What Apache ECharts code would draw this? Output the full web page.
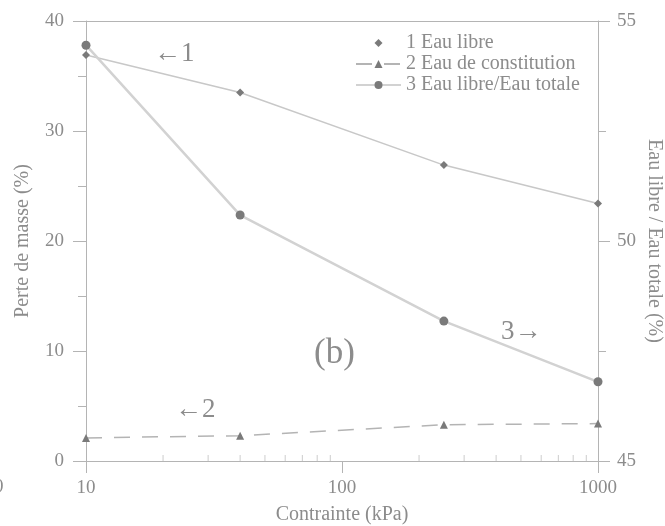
<!DOCTYPE html>
<html><head><meta charset="utf-8">
<script src="https://cdn.jsdelivr.net/npm/echarts@6/dist/echarts.min.js"></script>
<style>html,body{margin:0;padding:0;background:#fff}#c{width:665px;height:526px}</style>
</head><body><div id="c"></div>
<script>
const contrainte = [10, 40, 250, 1000];
const eauLibre = [36.9, 33.5, 26.9, 23.4];
const eauConstitution = [2.1, 2.3, 3.3, 3.4];
const eauLibreTotale = [54.45, 50.59, 48.18, 46.8];
const xMinorTicks = [20, 30, 40, 50, 60, 70, 80, 90, 200, 300, 400, 500, 600, 700, 800, 900];
const names = ['1 Eau libre', '2 Eau de constitution', '3 Eau libre/Eau totale'];

const F = 'Liberation Serif';
const TXT = '#8c8c8c';
const AX = '#b4b4b4';
const pairs = (ys) => contrainte.map((x, i) => [x, ys[i]]);

const chart = echarts.init(document.getElementById('c'), null, {renderer: 'canvas'});
chart.setOption({
  animation: false,
  backgroundColor: '#fff',
  textStyle: {fontFamily: F},
  grid: {left: 86, right: 67, top: 21, bottom: 65, containLabel: false, outerBoundsMode: 'none'},
  legend: {
    orient: 'vertical', left: 350, top: 28, itemGap: 1, itemWidth: 45, itemHeight: 10,
    textStyle: {fontFamily: F, fontSize: 20, color: TXT},
    data: [{name: names[0], lineStyle: {opacity: 0}}, names[1], names[2]]
  },
  xAxis: [{
    type: 'log', logBase: 10, min: 10, max: 1000,
    name: 'Contrainte (kPa)', nameLocation: 'middle', nameGap: 44,
    nameTextStyle: {fontFamily: F, fontSize: 20, color: TXT},
    axisLine: {lineStyle: {color: AX, width: 1}},
    axisTick: {show: true, inside: false, length: 12, lineStyle: {color: AX}},
    axisLabel: {margin: 18, fontFamily: F, fontSize: 19, color: TXT, formatter: (v) => String(Math.round(v))},
    splitLine: {show: false}
  }, {
    type: 'value', position: 'top', min: 0, max: 1,
    axisLine: {show: true, lineStyle: {color: AX}},
    axisTick: {show: false}, axisLabel: {show: false}, splitLine: {show: false}
  }],
  yAxis: [{
    type: 'value', min: 0, max: 40, interval: 10, position: 'left',
    name: 'Perte de masse (%)', nameLocation: 'middle', nameGap: 53, nameRotate: 90,
    nameTextStyle: {fontFamily: F, fontSize: 20, color: TXT},
    axisLine: {show: true, lineStyle: {color: AX}},
    axisTick: {show: true, inside: false, length: 13, lineStyle: {color: AX}},
    minorTick: {show: true, splitNumber: 2, length: 8, lineStyle: {color: AX}},
    axisLabel: {margin: 22, fontFamily: F, fontSize: 19, color: TXT},
    splitLine: {show: false}
  }, {
    type: 'value', min: 45, max: 55, interval: 5, position: 'right',
    name: 'Eau libre / Eau totale (%)', nameLocation: 'middle', nameGap: 46, nameRotate: -90,
    nameMoveOverlap: false,
    nameTextStyle: {fontFamily: F, fontSize: 20, color: TXT},
    axisLine: {show: true, lineStyle: {color: AX}},
    axisTick: {show: true, inside: false, length: 12, lineStyle: {color: AX}},
    minorTick: {show: true, splitNumber: 2, length: 8, lineStyle: {color: AX}},
    axisLabel: {margin: 19, fontFamily: F, fontSize: 19, color: TXT},
    splitLine: {show: false}
  }],
  series: [{
    name: names[0], type: 'line', xAxisIndex: 0, yAxisIndex: 0,
    data: pairs(eauLibre), symbol: 'diamond', symbolSize: 8,
    lineStyle: {color: '#c8c8c8', width: 1.5},
    itemStyle: {color: '#7a7a7a'}
  }, {
    name: names[1], type: 'line', xAxisIndex: 0, yAxisIndex: 0,
    data: pairs(eauConstitution), symbol: 'triangle', symbolSize: 8,
    lineStyle: {color: '#b4b4b4', width: 1.5, type: [16, 12]},
    itemStyle: {color: '#7a7a7a'}
  }, {
    name: names[2], type: 'line', xAxisIndex: 0, yAxisIndex: 1,
    data: pairs(eauLibreTotale), symbol: 'circle', symbolSize: 9,
    lineStyle: {color: '#d2d2d2', width: 2.5},
    itemStyle: {color: '#7a7a7a'}
  }, {
    name: 'minorTicks', type: 'scatter', xAxisIndex: 0, yAxisIndex: 0, silent: true,
    data: xMinorTicks.map(v => [v, 0]), symbol: 'rect', symbolSize: [1, 6], symbolOffset: [0, -3],
    itemStyle: {color: '#c0c0c0'}, z: 1
  }],
  graphic: [
    {type: 'text', left: 154, top: 40, style: {text: '\u21901', font: '27px "Liberation Serif"', fill: TXT}},
    {type: 'text', left: 175, top: 396, style: {text: '\u21902', font: '27px "Liberation Serif"', fill: TXT}},
    {type: 'text', left: 501, top: 318, style: {text: '3\u2192', font: '27px "Liberation Serif"', fill: TXT}},
    {type: 'text', left: 314, top: 336, style: {text: '(b)', font: '35px "Liberation Serif"', fill: TXT}},
    {type: 'text', left: -6, top: 478, style: {text: '0', font: '19px "Liberation Serif"', fill: TXT}}
  ]
});
</script></body></html>
